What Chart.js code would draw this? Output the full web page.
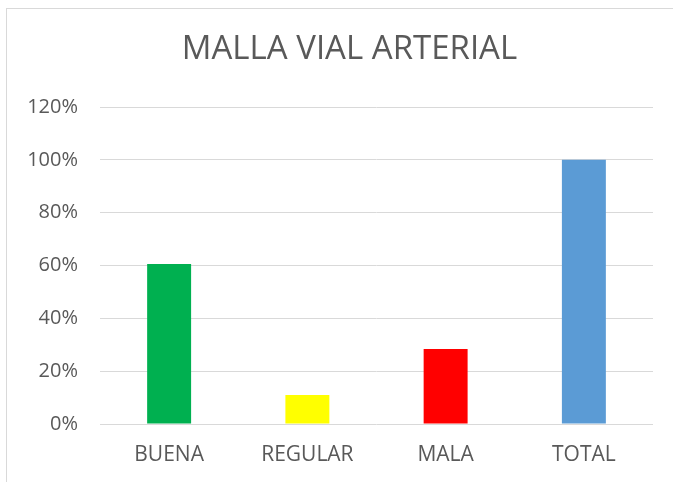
<!DOCTYPE html>
<html>
<head>
<meta charset="utf-8">
<script src="https://cdn.jsdelivr.net/npm/chart.js@4.4.0/dist/chart.umd.min.js"></script>
<style>
  html, body { margin: 0; padding: 0; background: #ffffff; overflow: hidden; }
  #wrap { position: relative; width: 673px; height: 482px; overflow: hidden; }
  #frame { position: absolute; left: 6px; top: 8px; width: 720px; height: 520px; border: 1px solid #d9d9d9; box-sizing: border-box; }
  #c { position: absolute; left: 0; top: 0; }
</style>
</head>
<body>
<div id="wrap">
  <div id="frame"></div>
  <canvas id="c" width="699" height="482"></canvas>
</div>
<script>
const titleText = "MALLA VIAL ARTERIAL";
const categories = ["BUENA", "REGULAR", "MALA", "TOTAL"];
const values = [60.6, 11.0, 28.4, 100];
const barColors = ["#00B050", "#FFFF00", "#FF0000", "#5B9BD5"];
const yTicks = [0, 20, 40, 60, 80, 100, 120];

const FONT = "'Open Sans', 'DejaVu Sans', sans-serif";

new Chart(document.getElementById('c'), {
  type: 'bar',
  data: {
    labels: categories,
    datasets: [{
      data: values,
      backgroundColor: barColors,
      borderWidth: 0,
      categoryPercentage: 1.0,
      barPercentage: 0.318
    }]
  },
  options: {
    responsive: false,
    animation: false,
    devicePixelRatio: 1,
    layout: { padding: { left: 0, right: 0, top: 0, bottom: 0 } },
    plugins: {
      legend: { display: false },
      tooltip: { enabled: false },
      title: {
        display: true,
        text: titleText,
        color: '#595959',
        font: { family: FONT, size: 33, weight: 'normal', lineHeight: 1.2 },
        padding: { top: 30.2, bottom: 37.2 }
      }
    },
    scales: {
      x: {
        afterFit: (s) => { s.height = 58; },
        grid: { display: false, drawTicks: false },
        border: { display: false },
        ticks: {
          color: '#595959',
          font: { family: FONT, size: 21, lineHeight: 1.2 },
          padding: 18,
          maxRotation: 0
        }
      },
      y: {
        min: 0,
        max: 120,
        afterFit: (s) => { s.width = 100; },
        afterBuildTicks: (s) => { s.ticks = yTicks.map(v => ({ value: v })); },
        grid: { color: '#d9d9d9', lineWidth: 1, drawTicks: false },
        border: { display: false },
        ticks: {
          color: '#595959',
          font: { family: FONT, size: 20, lineHeight: 1.2 },
          padding: 22,
          callback: (v) => v + '%'
        }
      },
      ySpacer: {
        position: 'right',
        min: 0,
        max: 120,
        afterFit: (s) => { s.width = 46; },
        grid: { display: false, drawTicks: false },
        border: { display: false },
        ticks: { display: false }
      }
    }
  }
});
</script>
</body>
</html>
